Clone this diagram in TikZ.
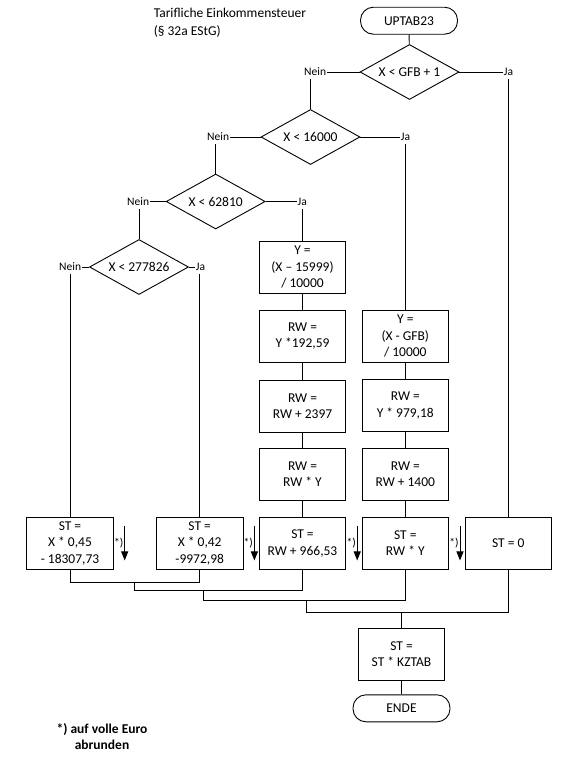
\documentclass[tikz,border=0pt]{standalone}
\usepackage{fontspec}
\setmainfont{Carlito}
\usetikzlibrary{shapes.geometric,arrows.meta,calc}
\tikzset{
 base/.style={font=\fontsize{13.5}{16.5}\selectfont},
 box/.style={draw, rectangle, minimum width=86.5pt, minimum height=52pt, inner sep=0pt, align=center, base},
 term/.style={draw, rectangle, rounded corners=13pt, minimum width=97pt, minimum height=27pt, inner sep=0pt, base},
 dec/.style={draw, diamond, aspect=1.8, minimum width=99pt, minimum height=55pt, inner sep=0pt, base},
 lbl/.style={font=\fontsize{11.5}{13}\selectfont, inner xsep=0.5pt, inner ysep=3pt},
 star/.style={font=\fontsize{11.5}{13}\selectfont, inner sep=0pt},
 roundarrow/.style={-{Triangle[length=9pt,width=7pt]}},
}
\begin{document}
\begin{tikzpicture}[x=1pt,y=-1pt,line width=0.9pt]
\useasboundingbox (0,0) rectangle (565,763);

% title
\node[base, align=left, anchor=west, font=\fontsize{13.5}{17.5}\selectfont] (title) at (150,22.5) {Tarifliche Einkommensteuer\\(§ 32a EStG)};

% start
\node[term] (up) at (409,20.7) {UPTAB23};

% decisions
\node[dec] (d1) at (409.5,72) {X < GFB + 1};
\node[dec] (d2) at (310.5,137) {X < 16000};
\node[dec] (d3) at (215.7,201.5) {X < 62810};
\node[dec] (d4) at (139,267) {X < 277826};

% labels
\node[lbl, anchor=east] (n1) at (327,72) {Nein};
\node[lbl, anchor=west] (j1) at (503,72) {Ja};
\node[lbl, anchor=east] (n2) at (230,137) {Nein};
\node[lbl, anchor=west] (j2) at (400,137) {Ja};
\node[lbl, anchor=east] (n3) at (150,201.5) {Nein};
\node[lbl, anchor=west] (j3) at (296.7,201.5) {Ja};
\node[lbl, anchor=east] (n4) at (82,267) {Nein};
\node[lbl, anchor=west] (j4) at (195,267) {Ja};

% left column
\node[box] (yl) at (302.5,267.2) {Y =\\(X – 15999)\\/ 10000};
\node[box] (rw1) at (302.5,336.2) {RW =\\Y *192,59};
\node[box] (rw2) at (302.5,406.2) {RW =\\RW + 2397};
\node[box] (rw3) at (302.5,474.2) {RW =\\RW * Y};

% right column
\node[box] (yr) at (405.3,336.2) {Y =\\(X - GFB)\\/ 10000};
\node[box] (rr1) at (405.3,405.4) {RW =\\Y * 979,18};
\node[box] (rr2) at (405.3,474.2) {RW =\\RW + 1400};

% bottom row
\node[box] (b1) at (70,543.3) {ST =\\X * 0,45\\- 18307,73};
\node[box] (b2) at (199.7,543.3) {ST =\\X * 0,42\\-9972,98};
\node[box] (b3) at (302.5,543.3) {ST =\\RW + 966,53};
\node[box] (b4) at (405.3,543.3) {ST =\\RW * Y};
\node[box] (b5) at (508.3,543.3) {ST = 0};

% final
\node[box] (kz) at (401.5,654.2) {ST =\\ST * KZTAB};
\node[term] (ende) at (401.5,708.3) {ENDE};

% footnote
\node[align=center, font=\fontsize{13.5}{16}\selectfont\bfseries] (fn) at (102,737) {*) auf volle Euro\\abrunden};

% connectors top
\draw (up) -- (d1);
\draw (d1.west) -- (n1.east);
\draw (d1.east) -- (j1.west);
\draw (d2.north |- n1.south) -- (d2.north);
\draw (b5.north |- j1.south) -- (b5.north);

\draw (d2.west) -- (n2.east);
\draw (d2.east) -- (j2.west);
\draw (d3.north |- n2.south) -- (d3.north);
\draw (yr.north |- j2.south) -- (yr.north);

\draw (d3.west) -- (n3.east);
\draw (d3.east) -- (j3.west);
\draw (d4.north |- n3.south) -- (d4.north);
\draw (yl.north |- j3.south) -- (yl.north);

\draw (d4.west) -- (n4.east);
\draw (d4.east) -- (j4.west);
\draw (b1.north |- n4.south) -- (b1.north);
\draw (b2.north |- j4.south) -- (b2.north);

% columns
\draw (yl) -- (rw1);
\draw (rw1) -- (rw2);
\draw (rw2) -- (rw3);
\draw (rw3) -- (b3);
\draw (yr) -- (rr1);
\draw (rr1) -- (rr2);
\draw (rr2) -- (b4);

% rounding arrows
\foreach \b/\i in {b1/1,b2/2,b3/3,b4/4}{
  \coordinate (rt\i) at ([xshift=11pt,yshift=-9.4pt]\b.north east);
  \coordinate (rb\i) at ([xshift=11pt,yshift=9.3pt]\b.south east);
  \draw[roundarrow] (rt\i) -- (rb\i);
  \node[star, anchor=east] (s\i) at ([xshift=-1pt]rt\i |- \b.east) {*)};
}

% merging
\coordinate (a1) at (134.3,582.7);
\coordinate (a2) at (203.3,590.7);
\coordinate (a3) at (306,600.7);
\coordinate (a4) at (401.5,612.3);
\draw (b1.south) |- (a1) -| (b2.south);
\draw (a1) |- (a2) -| (b3.south);
\draw (a2) |- (a3) -| (b4.south);
\draw (a3) |- (a4) -| (b5.south);
\draw (a4) -- (kz.north);
\draw (kz) -- (ende);
\end{tikzpicture}
\end{document}
